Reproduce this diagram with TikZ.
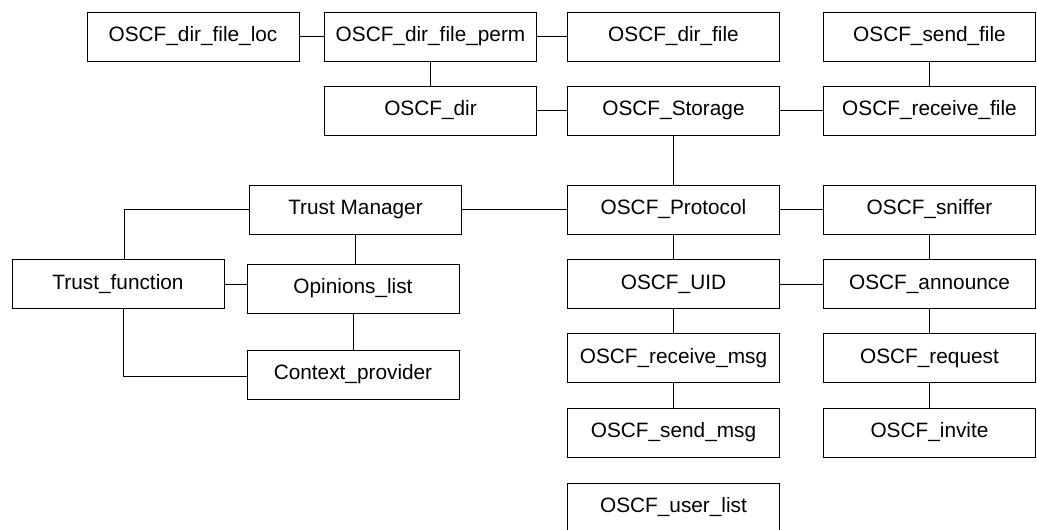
\documentclass[tikz,border=0pt]{standalone}
\usepackage{fontspec}
\setmainfont{Liberation Sans}

\begin{document}
\begin{tikzpicture}[x=1pt, y=-1pt,
    box/.style={draw=black, line width=0.8pt, minimum width=212pt,
                minimum height=49pt, inner sep=0pt,
                font=\fontsize{20.8}{25}\selectfont},
    link/.style={draw=black, line width=0.8pt}]
    \useasboundingbox (0,0) rectangle (1037,530);
    \clip (0,0) rectangle (1037,530);
    % Storage
    \node[box] (dirfileloc) at (193,36.5) {OSCF\_dir\_file\_loc};
    \node[box] (dirfileperm) at (430.5,36.5) {OSCF\_dir\_file\_perm};
    \node[box] (dirfile) at (673.5,36.5) {OSCF\_dir\_file};
    \node[box] (sendfile) at (929.5,36.5) {OSCF\_send\_file};
    \node[box] (dir) at (430.5,110.5) {OSCF\_dir};
    \node[box] (storage) at (673.5,110.5) {OSCF\_Storage};
    \node[box] (receivefile) at (929.5,110.5) {OSCF\_receive\_file};
    % Protocol
    \node[box] (protocol) at (673.5,209.5) {OSCF\_Protocol};
    \node[box] (sniffer) at (929.5,209.5) {OSCF\_sniffer};
    \node[box] (uid) at (673.5,284) {OSCF\_UID};
    \node[box] (announce) at (929.5,284) {OSCF\_announce};
    \node[box] (receivemsg) at (673.5,358) {OSCF\_receive\_msg};
    \node[box] (request) at (929.5,358) {OSCF\_request};
    \node[box] (sendmsg) at (673.5,432.5) {OSCF\_send\_msg};
    \node[box] (invite) at (929.5,432.5) {OSCF\_invite};
    \node[box] (userlist) at (673.5,507.5) {OSCF\_user\_list};
    % Trust
    \node[box] (trustmanager) at (355.5,209.5) {Trust Manager};
    \node[box] (trustfunction) at (118,284) {Trust\_function};
    \node[box] (opinions) at (353,288.5) {Opinions\_list};
    \node[box] (context) at (353,374.5) {Context\_provider};
    % links
    \draw[link] (dirfileloc) -- (dirfileperm);
    \draw[link] (dirfileperm) -- (dirfile);
    \draw[link] (dirfileperm) -- (dir);
    \draw[link] (dir) -- (storage);
    \draw[link] (storage) -- (receivefile);
    \draw[link] (sendfile) -- (receivefile);
    \draw[link] (storage) -- (protocol);
    \draw[link] (trustmanager) -- (protocol);
    \draw[link] (protocol) -- (sniffer);
    \draw[link] (protocol) -- (uid);
    \draw[link] (sniffer) -- (announce);
    \draw[link] (uid) -- (announce);
    \draw[link] (uid) -- (receivemsg);
    \draw[link] (receivemsg) -- (sendmsg);
    \draw[link] (announce) -- (request);
    \draw[link] (request) -- (invite);
    \draw[link] (trustmanager.west) -| ([xshift=6pt]trustfunction.north);
    \draw[link] (trustfunction.east) -- (trustfunction.east -| opinions.west);
    \draw[link] (trustmanager.south) -- (trustmanager.south |- opinions.north);
    \draw[link] (opinions) -- (context);
    \draw[link] ([xshift=5pt]trustfunction.south) |- ([yshift=-2pt]context.west);
\end{tikzpicture}
\end{document}
